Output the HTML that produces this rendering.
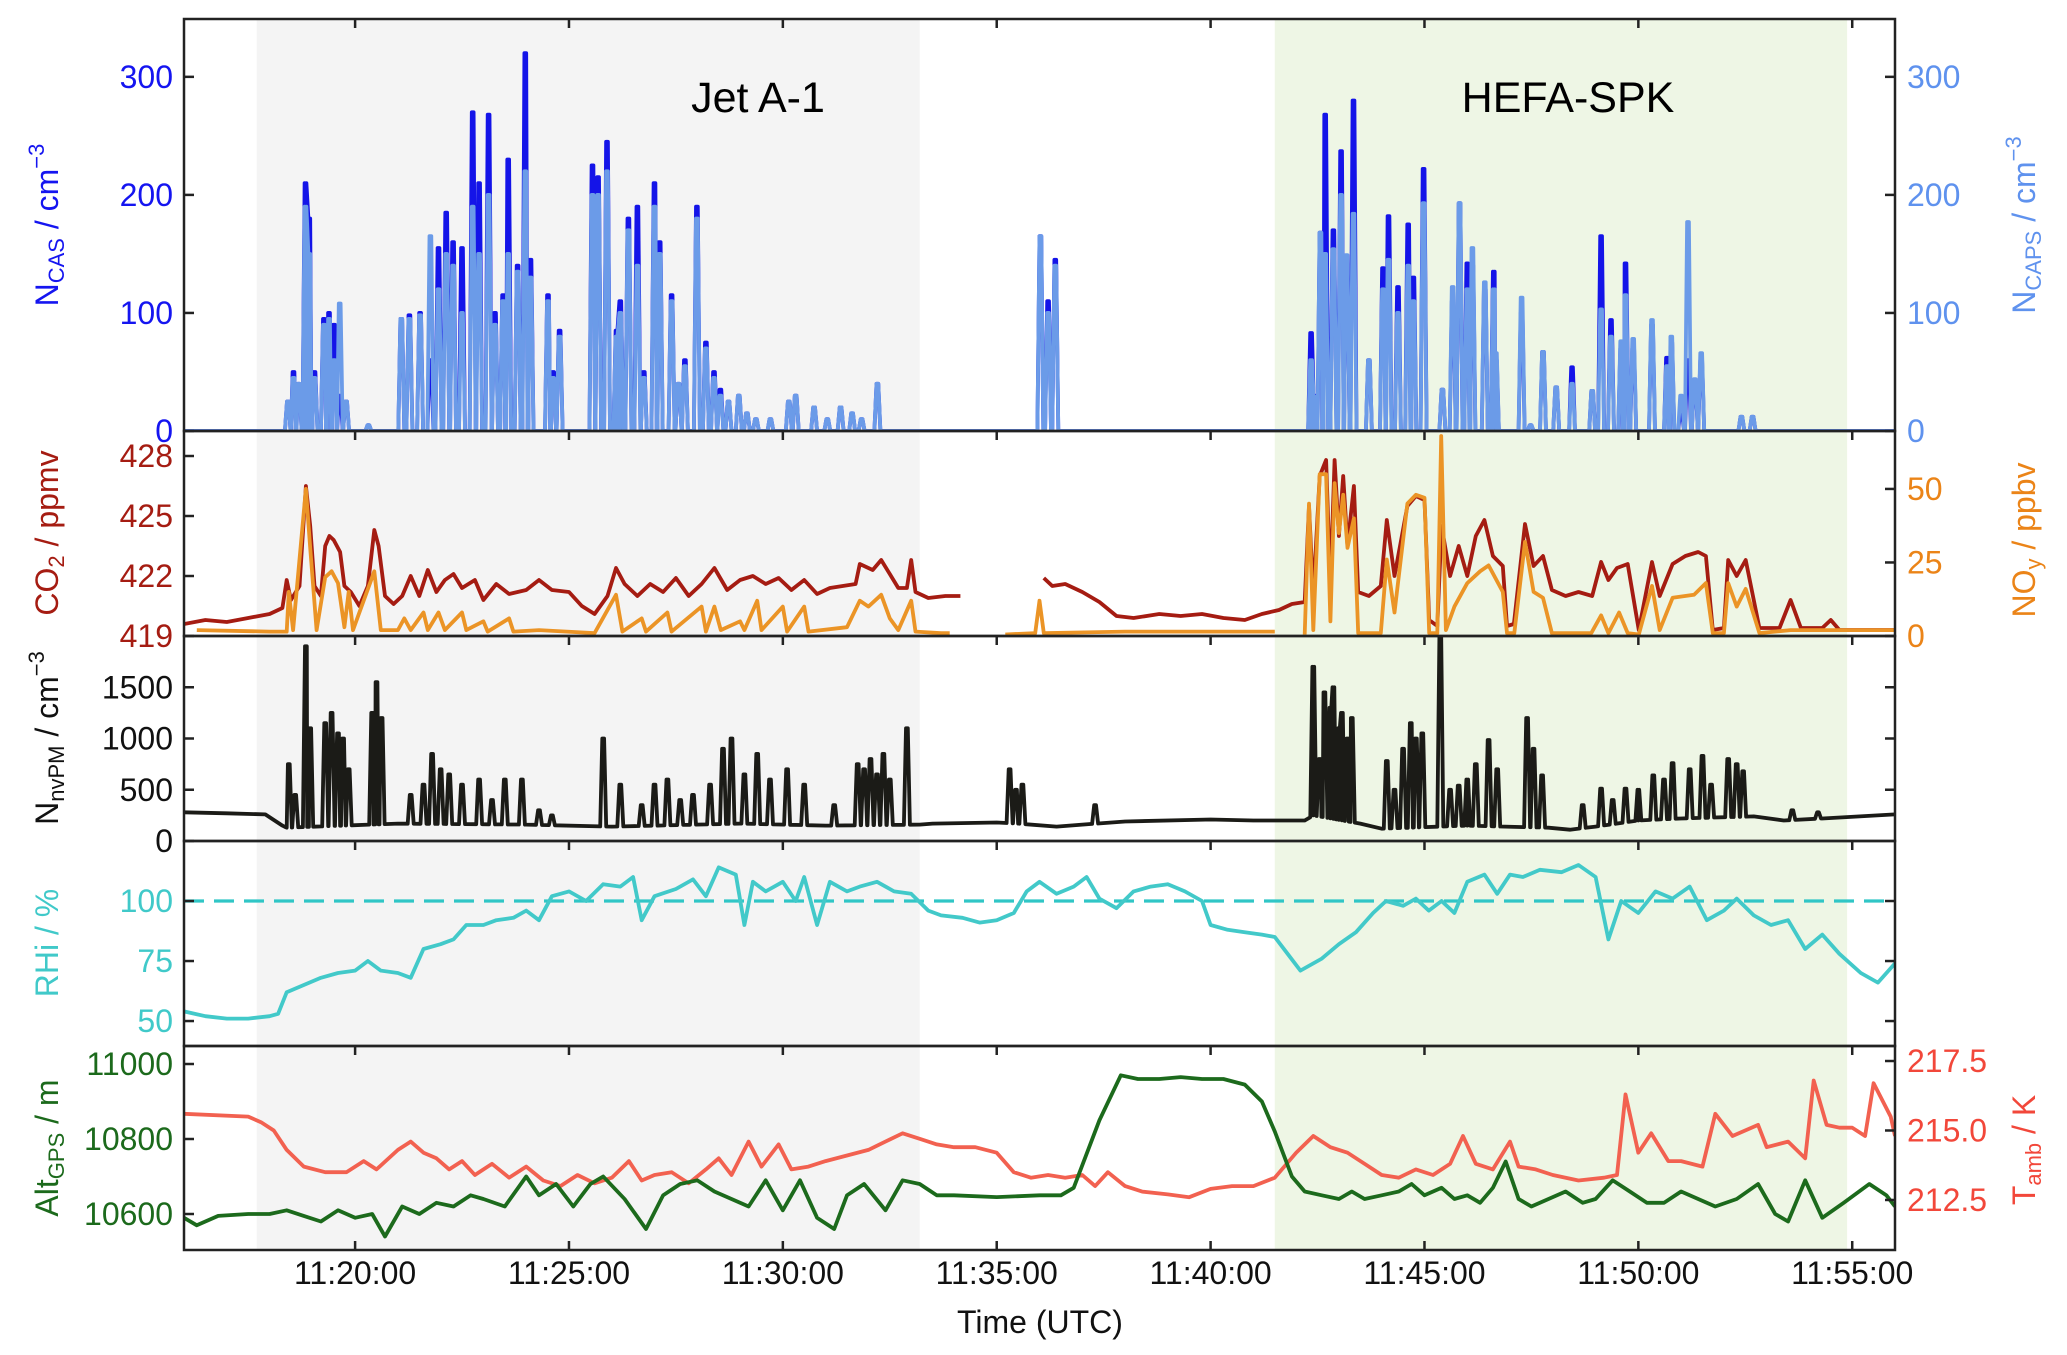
<!DOCTYPE html>
<html><head><meta charset="utf-8"><style>
html,body{margin:0;padding:0;background:#fff;}
svg{display:block;font-family:"Liberation Sans",Arial,sans-serif;}
</style></head><body>
<svg id="chart" width="2067" height="1355" viewBox="0 0 2067 1355" xmlns="http://www.w3.org/2000/svg">
<g id="shades"></g><g id="series"></g><g id="frames"></g><g id="labels"></g>
</svg>
<script>
// ---------- data (time = minutes after 11:16:00 UTC) ----------
const xTickMinutes=[4,9,14,19,24,29,34,39];
const xTickLabels=["11:20:00","11:25:00","11:30:00","11:35:00","11:40:00","11:45:00","11:50:00","11:55:00"];
const phaseStart=[1.7,25.5];
const phaseEnd=[17.2,38.88];
const phaseNames=["Jet A-1","HEFA-SPK"];

const casT=[2.43,2.56,2.68,2.84,2.93,3.05,3.27,3.39,3.51,3.64,3.79,4.31,5.08,5.27,5.52,5.76,5.95,6.13,6.29,6.50,6.75,6.90,7.12,7.27,7.46,7.58,7.80,7.98,8.10,8.51,8.63,8.78,9.55,9.68,9.89,10.11,10.2,10.39,10.6,10.75,11.0,11.12,11.4,11.56,11.71,11.99,12.2,12.39,12.54,12.73,12.97,13.16,13.37,13.71,14.14,14.3,14.73,15.04,15.35,15.62,15.84,16.21,
20.02,20.2,20.37,
26.35,26.43,26.57,26.68,26.87,27.05,27.18,27.34,27.70,28.03,28.16,28.38,28.62,28.74,28.98,29.42,29.66,29.82,30.0,30.12,30.41,30.62,30.67,31.27,31.48,31.77,32.08,32.45,32.92,33.13,33.36,33.6,33.7,33.88,34.32,34.67,34.77,35.0,35.16,35.32,35.47,36.41,36.67];
const casV=[25,50,40,210,180,50,95,100,90,30,25,5,95,98,100,60,155,185,160,155,270,210,268,100,115,230,140,320,145,115,50,85,225,215,245,85,110,180,190,50,210,160,115,40,60,190,75,50,35,25,30,15,10,10,25,30,20,10,20,15,10,40,
165,110,145,
83,30,168,268,170,237,140,280,60,138,182,122,175,130,222,35,110,193,142,140,120,135,60,100,5,67,37,54,34,165,94,70,142,70,90,62,75,16,60,40,60,12,12];
const capsV=[25,45,40,190,150,45,90,95,60,108,25,5,95,95,98,165,120,150,140,100,190,150,200,90,110,150,135,220,130,110,45,80,200,200,220,80,100,170,140,45,190,150,110,40,55,180,70,45,30,25,30,15,10,10,25,30,20,10,20,15,10,40,
165,100,140,
60,29,168,150,154,200,149,184,60,120,145,100,140,110,193,35,122,193,120,155,126,120,66,113,5,67,37,40,34,103,80,76,115,78,94,55,80,30,177,44,66,12,12];

const co2T=[0,0.5,1,1.5,2,2.3,2.4,2.5,2.7,2.85,2.95,3.05,3.2,3.3,3.4,3.5,3.65,3.75,3.9,4.1,4.3,4.45,4.55,4.7,4.9,5.1,5.3,5.5,5.7,5.9,6.1,6.3,6.5,6.8,7.0,7.3,7.6,8.0,8.3,8.6,9.0,9.3,9.6,9.9,10.1,10.3,10.6,10.9,11.2,11.5,11.8,12.1,12.4,12.7,13.0,13.3,13.6,13.9,14.2,14.5,14.8,15.1,15.4,15.7,15.8,16.1,16.3,16.5,16.7,16.9,17.0,17.1,17.4,17.8,18.15,18.2,20.05,20.1,20.3,20.6,21.0,21.4,21.8,22.2,22.8,23.3,23.8,24.3,24.8,25.2,25.6,25.9,26.2,26.3,26.4,26.55,26.7,26.8,26.9,27.0,27.1,27.2,27.35,27.45,27.7,27.98,28.12,28.3,28.6,28.8,29.0,29.11,29.3,29.4,29.6,29.8,30.0,30.2,30.4,30.6,30.83,30.93,31.09,31.35,31.55,31.77,31.98,32.3,32.6,32.92,33.13,33.3,33.5,33.75,34.01,34.32,34.5,34.8,35.1,35.4,35.58,35.74,36.0,36.1,36.3,36.51,36.83,37.3,37.56,37.8,38.3,38.5,38.7,40];
const co2V=[419.6,419.8,419.7,419.9,420.1,420.4,421.8,420.8,421.5,426.5,424.5,421.5,421.0,423.5,424.0,423.8,423.2,421.5,421.2,420.5,421.5,424.3,423.5,421.0,420.6,421.0,422.0,421.0,422.3,421.2,421.8,422.1,421.4,421.8,420.8,421.6,421.1,421.3,421.8,421.3,421.2,420.5,420.1,421.0,422.4,421.6,421.0,421.6,421.2,421.9,421.0,421.6,422.4,421.3,421.8,422.0,421.6,421.9,421.3,421.8,421.1,421.4,421.5,421.6,422.6,422.3,422.8,422.1,421.4,421.4,422.8,421.2,420.9,421.0,421.0,null,null,421.9,421.5,421.6,421.2,420.7,420.0,419.9,420.1,420.0,420.1,419.9,419.8,420.1,420.3,420.6,420.7,425.5,421.0,427.0,427.8,421.5,427.8,424.0,427.0,423.5,426.5,421.2,421.0,421.5,424.8,422.0,425.5,426.0,425.8,419.8,419.5,424.5,422.0,423.5,422.0,424.0,424.8,423.0,422.5,419.5,419.6,424.6,422.5,423.0,421.3,421.0,421.2,421.0,422.7,421.8,422.4,422.6,419.3,422.7,421.0,422.6,423.0,423.2,423.0,419.3,419.4,422.8,422.0,422.8,419.4,419.4,420.8,419.4,419.4,419.8,419.3,419.3];

const noyT=[0.3,2.0,2.4,2.45,2.55,2.85,2.95,3.1,3.3,3.45,3.6,3.75,3.85,3.95,4.45,4.6,5.0,5.15,5.3,5.6,5.7,5.95,6.1,6.5,6.6,7.0,7.1,7.6,7.7,8.3,9.6,10.1,10.25,10.7,10.8,11.3,11.4,12.1,12.2,12.4,12.55,13.0,13.1,13.4,13.5,14.0,14.1,14.5,14.6,15.5,15.8,16.0,16.3,16.5,16.7,17.0,17.1,17.7,17.9,18.0,19.2,19.9,20.0,20.1,22,25.5,25.9,26.2,26.3,26.4,26.55,26.7,26.8,26.9,27.0,27.1,27.2,27.35,27.45,27.98,28.12,28.3,28.6,28.8,29.0,29.11,29.3,29.39,29.5,29.7,30.0,30.3,30.5,30.83,30.93,31.1,31.35,31.55,31.77,31.98,32.9,33.13,33.3,33.55,33.75,34.01,34.32,34.5,34.8,35.3,35.58,35.74,36.0,36.1,36.3,36.51,36.83,37.56,40];
const noyV=[2,1.5,1.5,15,2,50,30,2,20,22,18,3,15,2,22,2,2,6,2,8,2,8,2,8,2,5,1.5,6,1.5,2,1,14,1.5,6,1.5,8,1.5,10,1.5,10,2,5,2,12,2,10,1.5,10,1.5,3,12,10,14,6,2,12,1.5,1,1,null,0.5,1,12,1,1.5,1.5,null,0.5,45,2,55,55,5,52,35,48,30,40,1,1,26,8,45,48,47,1,1,68,2,10,18,22,24,15,1,1,32,15,13,1,1,7,1,8,1,0.5,17,2,13,14,18,1,1,18,10,16,1,2,2];

const pmBaseT=[0,1,1.9,2.3,2.4,5,8,10,13,15,17.2,17.5,19,19.5,20.4,21,22,24,25,26.2,26.4,27.5,28,30,31.9,32.4,33,34,35,36.7,37.4,38.3,40];
const pmBaseV=[280,270,260,150,130,170,160,140,170,150,160,170,180,170,140,160,190,210,200,200,250,170,120,150,130,110,140,200,220,240,200,220,260];
const pmSpikeT=[2.45,2.6,2.85,2.95,3.3,3.45,3.6,3.72,3.85,4.4,4.5,4.62,5.3,5.6,5.8,6.0,6.2,6.5,6.9,7.2,7.5,7.9,8.3,8.6,9.8,10.2,10.7,11.0,11.3,11.6,11.9,12.3,12.6,12.8,13.1,13.4,13.7,14.1,14.5,15.2,15.75,15.9,16.05,16.2,16.35,16.5,16.9,19.3,19.45,19.6,21.3,26.4,26.55,26.66,26.8,26.87,27.0,27.07,27.2,27.3,28.12,28.3,28.5,28.68,28.8,28.95,29.37,29.6,29.8,30.0,30.2,30.5,30.7,31.4,31.55,31.75,32.7,33.13,33.4,33.7,34.0,34.35,34.6,34.8,35.2,35.5,35.7,36.1,36.3,36.45,37.6,38.2];
const pmSpikeV=[750,450,1900,1100,1150,1250,1050,1000,700,1250,1550,1200,450,550,850,700,650,550,600,400,600,600,300,250,1000,550,350,550,600,400,450,550,900,1000,650,850,600,700,550,350,750,700,800,650,850,600,1100,700,500,550,350,1700,800,1450,1300,1500,1100,1250,1000,1200,780,500,900,1150,1000,1050,1990,500,540,600,750,985,700,1200,900,640,350,510,400,510,500,640,600,760,700,830,550,800,750,680,300,280];

const rhiT=[0,0.5,1,1.5,2.0,2.2,2.4,2.8,3.2,3.6,4.0,4.3,4.6,5.0,5.3,5.6,6.0,6.3,6.6,7.0,7.3,7.7,8.0,8.3,8.6,9.0,9.4,9.8,10.2,10.5,10.7,11.0,11.5,11.9,12.2,12.5,12.9,13.1,13.3,13.6,14.0,14.3,14.5,14.8,15.1,15.5,15.8,16.2,16.6,17.0,17.4,17.7,18.2,18.6,19.0,19.4,19.7,20.0,20.4,20.8,21.1,21.4,21.8,22.2,22.6,23.0,23.4,23.8,24.0,24.4,24.8,25.2,25.5,25.8,26.1,26.6,27.0,27.4,27.8,28.1,28.5,28.8,29.1,29.4,29.7,30.0,30.4,30.7,31.0,31.3,31.7,32.2,32.6,33.0,33.3,33.6,34.0,34.4,34.8,35.2,35.6,36.0,36.3,36.7,37.1,37.5,37.9,38.3,38.7,39.2,39.6,40];
const rhiV=[54,52,51,51,52,53,62,65,68,70,71,75,71,70,68,80,82,84,90,90,92,93,96,92,102,104,100,107,106,110,92,102,105,109,102,114,111,90,108,104,108,100,110,90,108,104,106,108,104,103,96,94,93,91,92,95,104,108,103,106,110,101,97,104,106,107,104,100,90,88,87,86,85,78,71,76,82,87,95,100,98,101,96,100,95,108,111,103,111,110,113,112,115,110,84,100,95,104,101,106,92,96,101,94,90,92,80,86,78,70,66,74];

const altT=[0,0.3,0.8,1.5,2,2.4,2.8,3.2,3.6,4.0,4.4,4.7,5.1,5.5,5.9,6.3,6.7,7.0,7.5,8.0,8.3,8.7,9.1,9.5,9.8,10.3,10.8,11.2,11.6,12.0,12.4,12.8,13.2,13.6,14.0,14.4,14.8,15.2,15.5,15.9,16.4,16.8,17.2,17.6,18.0,19.0,20.0,20.5,20.8,21.4,21.9,22.3,22.8,23.3,23.8,24.3,24.8,25.2,25.5,25.9,26.2,26.6,27.0,27.3,27.6,28.0,28.4,28.7,29.0,29.4,29.7,30.0,30.3,30.6,30.9,31.2,31.5,31.9,32.3,32.7,33.0,33.4,33.8,34.2,34.6,35.0,35.4,35.8,36.3,36.8,37.2,37.5,37.9,38.3,38.8,39.4,39.8,40];
const altV=[10590,10570,10595,10600,10600,10610,10595,10580,10610,10590,10600,10540,10620,10600,10630,10620,10650,10640,10620,10700,10650,10680,10620,10680,10700,10640,10560,10650,10680,10690,10660,10640,10620,10690,10610,10690,10590,10560,10650,10680,10610,10690,10680,10650,10650,10645,10650,10650,10670,10850,10970,10960,10960,10965,10960,10960,10945,10900,10820,10700,10660,10650,10640,10660,10640,10650,10660,10680,10650,10670,10640,10650,10630,10670,10740,10640,10620,10640,10660,10630,10640,10690,10660,10630,10630,10660,10640,10620,10640,10680,10600,10580,10690,10590,10630,10680,10650,10620];

const tT=[0,1.5,1.8,2.1,2.4,2.8,3.3,3.8,4.2,4.5,5.0,5.3,5.6,5.9,6.2,6.5,6.8,7.2,7.6,8.0,8.4,8.8,9.2,9.6,10.0,10.4,10.7,11.0,11.4,11.8,12.2,12.5,12.8,13.2,13.5,13.9,14.2,14.6,15.0,15.5,16.0,16.4,16.8,17.2,17.6,18.0,18.5,19.0,19.4,19.8,20.2,20.6,21.0,21.3,21.6,22.0,22.4,23.0,23.5,24.0,24.5,25.0,25.5,26.0,26.4,26.8,27.2,27.6,28.0,28.4,28.8,29.2,29.6,29.9,30.2,30.6,31.0,31.2,31.6,32.0,32.6,33.2,33.5,33.7,34.0,34.3,34.7,35.0,35.5,35.8,36.2,36.8,37.0,37.5,37.9,38.1,38.4,38.7,39.0,39.3,39.5,39.9,40];
const tV=[215.6,215.5,215.3,215.0,214.3,213.7,213.5,213.5,213.9,213.6,214.3,214.6,214.2,214.0,213.6,213.9,213.4,213.8,213.3,213.7,213.2,213.0,213.4,213.1,213.3,213.9,213.2,213.4,213.5,213.1,213.6,214.0,213.4,214.6,213.7,214.5,213.6,213.7,213.9,214.1,214.3,214.6,214.9,214.7,214.5,214.4,214.4,214.2,213.5,213.3,213.4,213.3,213.4,213.0,213.5,213.0,212.8,212.7,212.6,212.9,213.0,213.0,213.3,214.2,214.8,214.4,214.2,213.8,213.4,213.3,213.6,213.4,213.8,214.8,213.8,213.6,214.6,213.7,213.6,213.4,213.2,213.3,213.4,216.3,214.2,214.9,213.9,213.9,213.7,215.6,214.8,215.2,214.4,214.6,214.0,216.8,215.2,215.1,215.1,214.8,216.7,215.5,214.8];

// ---------- layout ----------
const SVGNS="http://www.w3.org/2000/svg";
const X0=184,X1=1895,TMAX=40;
const P=[{t:19,b:431},{t:431,b:636},{t:636,b:841},{t:841,b:1046},{t:1046,b:1250}];
function xs(m){return X0+m/TMAX*(X1-X0);}
function ys(p,lo,hi){return v=>P[p].b-(v-lo)/(hi-lo)*(P[p].b-P[p].t);}
const y1=ys(0,0,349), y2c=ys(1,419,429.25), y2n=ys(1,0,69.7), y3=ys(2,0,2000), y4=ys(3,39.6,125), y5a=ys(4,10504,11048), y5t=ys(4,210.7,218.04);

function el(tag,attrs,parent){const e=document.createElementNS(SVGNS,tag);for(const k in attrs)e.setAttribute(k,attrs[k]);parent.appendChild(e);return e;}
const gShade=document.getElementById('shades'),gSer=document.getElementById('series'),gFr=document.getElementById('frames'),gLab=document.getElementById('labels');
const svg=document.getElementById('chart');
const defs=el('defs',{},svg);
P.forEach((p,i)=>{const c=el('clipPath',{id:'clip'+i},defs);el('rect',{x:X0,y:p.t,width:X1-X0,height:p.b-p.t},c);});

const shadeColors=['#f4f4f4','#eef6e5'];
for(let i=0;i<phaseStart.length;i++){
  const r=el('rect',{x:xs(phaseStart[i]),y:P[0].t,width:xs(phaseEnd[i])-xs(phaseStart[i]),height:P[4].b-P[0].t,fill:shadeColors[i]},gShade);
  
  
}

function pathFrom(T,V,yf){let d='',pen=false;for(let i=0;i<T.length;i++){if(V[i]===null||V[i]===undefined){pen=false;continue;}d+=(pen?'L':'M')+xs(T[i]).toFixed(1)+','+yf(V[i]).toFixed(1);pen=true;}return d;}
function interp(T,V,t){if(t<=T[0])return V[0];for(let i=1;i<T.length;i++){if(t<=T[i]){const f=(t-T[i-1])/(T[i]-T[i-1]);return V[i-1]+f*(V[i]-V[i-1]);}}return V[V.length-1];}
function spiky(bT,bV,sT,sV,hw){const pts=[];bT.forEach((t,i)=>pts.push([t,bV[i]]));
  sT.forEach((t,i)=>{pts.push([t-hw,interp(bT,bV,t-hw)]);pts.push([t-hw*0.3,sV[i]]);pts.push([t+hw*0.3,sV[i]]);pts.push([t+hw,interp(bT,bV,t+hw)]);});
  pts.sort((a,b)=>a[0]-b[0]);return [pts.map(p=>p[0]),pts.map(p=>p[1])];}
function line(p,d,color,w,name,dash){const a={d:d,fill:'none',stroke:color,'stroke-width':w,'stroke-linejoin':'round','clip-path':'url(#clip'+p+')'};if(dash)a['stroke-dasharray']=dash;const e=el('path',a,gSer);
  
  return e;}

let s=spiky([0,40],[0,0],casT,casV,0.07);
line(0,pathFrom(s[0],s[1],y1),'#1414e8',3.8,'ncas-line');
s=spiky([0,40],[0,0],casT,capsV,0.07);
line(0,pathFrom(s[0],s[1],y1),'#6b9be8',3.8,'ncaps-line');
line(1,pathFrom(co2T,co2V,y2c),'#a51c12',3.8,'co2-line');
line(1,pathFrom(noyT,noyV,y2n),'#eb9426',3.8,'noy-line');
s=spiky(pmBaseT,pmBaseV,pmSpikeT,pmSpikeV,0.07);
line(2,pathFrom(s[0],s[1],y3),'#1b1b17',3.8,'nvpm-line');
line(3,'M'+X0+','+y4(100)+'L'+X1+','+y4(100),'#30c6c6',3.2,'rhi-100-reference-line','20,10');
line(3,pathFrom(rhiT,rhiV,y4),'#42c9c9',3.8,'rhi-line');
line(4,pathFrom(tT,tV,y5t),'#f26150',3.8,'temperature-line');
line(4,pathFrom(altT,altV,y5a),'#1c6a1c',3.8,'altitude-line');

P.forEach((p,i)=>{const r=el('rect',{x:X0,y:p.t,width:X1-X0,height:p.b-p.t,fill:'none',stroke:'#222','stroke-width':2.5},gFr);
  
  
  xTickMinutes.forEach(m=>{el('line',{x1:xs(m),x2:xs(m),y1:p.t,y2:p.t+9,stroke:'#222','stroke-width':2.5},gFr);});
});
xTickMinutes.forEach(m=>{el('line',{x1:xs(m),x2:xs(m),y1:P[4].b,y2:P[4].b-9,stroke:'#222','stroke-width':2.5},gFr);});
xTickMinutes.forEach((m,i)=>{const t=el('text',{x:xs(m),y:1284,'text-anchor':'middle','font-size':32,fill:'#111'},gLab);t.textContent=xTickLabels[i];
  
  });
const xt=el('text',{x:1040,y:1333,'text-anchor':'middle','font-size':32,fill:'#111'},gLab);xt.textContent='Time (UTC)';



const leftTickVals=[[0,100,200,300],[419,422,425,428],[0,500,1000,1500],[50,75,100],[10600,10800,11000]];
const leftScales=[y1,y2c,y3,y4,y5a];
const leftColors=['#1515f0','#a51c12','#111','#40c9c9','#1c6a1c'];
const rightTickVals=[[0,100,200,300],[0,25,50],[500,1000,1500],[50,75,100],[212.5,215.0,217.5]];
const rightScales=[y1,y2n,y3,y4,y5t];
const rightColors=['#5f92ee','#eb8418',null,null,'#f2473a'];
for(let p=0;p<5;p++){
  leftTickVals[p].forEach(v=>{const y=leftScales[p](v);el('line',{x1:X0,x2:X0+10,y1:y,y2:y,stroke:'#222','stroke-width':2.5},gFr);
    const t=el('text',{x:173,y:y+11,'text-anchor':'end','font-size':32,fill:leftColors[p]},gLab);t.textContent=String(v);
    
    });
  rightTickVals[p].forEach(v=>{const y=rightScales[p](v);el('line',{x1:X1-10,x2:X1,y1:y,y2:y,stroke:'#222','stroke-width':2.5},gFr);
    if(rightColors[p]){const t=el('text',{x:1907,y:y+11,'text-anchor':'start','font-size':32,fill:rightColors[p]},gLab);t.textContent=(p===4?v.toFixed(1):String(v));
      
      }});
}
</script>
<svg style="position:absolute;left:0;top:0" width="2067" height="1355" xmlns="http://www.w3.org/2000/svg" font-family="Liberation Sans, Arial, sans-serif">
<text x="758" y="112" text-anchor="middle" font-size="43" fill="#000">Jet A-1</text>
<text x="1568" y="112" text-anchor="middle" font-size="43" fill="#000">HEFA-SPK</text>
<text transform="translate(58,225) rotate(-90)" text-anchor="middle" font-size="32" fill="#1515f0">N<tspan font-size="22" dy="6">CAS</tspan><tspan dy="-6"> / cm</tspan><tspan font-size="22" dy="-14">−3</tspan></text>
<text transform="translate(58,533) rotate(-90)" text-anchor="middle" font-size="32" fill="#a51c12">CO<tspan font-size="22" dy="6">2</tspan><tspan dy="-6"> / ppmv</tspan></text>
<text transform="translate(58,738) rotate(-90)" text-anchor="middle" font-size="32" fill="#111">N<tspan font-size="22" dy="6">nvPM</tspan><tspan dy="-6"> / cm</tspan><tspan font-size="22" dy="-14">−3</tspan></text>
<text transform="translate(58,943) rotate(-90)" text-anchor="middle" font-size="32" fill="#40c9c9">RHi / %</text>
<text transform="translate(58,1148) rotate(-90)" text-anchor="middle" font-size="32" fill="#1c6a1c">Alt<tspan font-size="22" dy="6">GPS</tspan><tspan dy="-6"> / m</tspan></text>
<text transform="translate(2035,225) rotate(-90)" text-anchor="middle" font-size="32" fill="#5f92ee">N<tspan font-size="22" dy="6">CAPS</tspan><tspan dy="-6"> / cm</tspan><tspan font-size="22" dy="-14">−3</tspan></text>
<text transform="translate(2035,540) rotate(-90)" text-anchor="middle" font-size="32" fill="#eb8418">NO<tspan font-size="22" dy="6">y</tspan><tspan dy="-6"> / ppbv</tspan></text>
<text transform="translate(2035,1150) rotate(-90)" text-anchor="middle" font-size="32" fill="#f2473a">T<tspan font-size="22" dy="6">amb</tspan><tspan dy="-6"> / K</tspan></text>
</svg>
</body></html>
